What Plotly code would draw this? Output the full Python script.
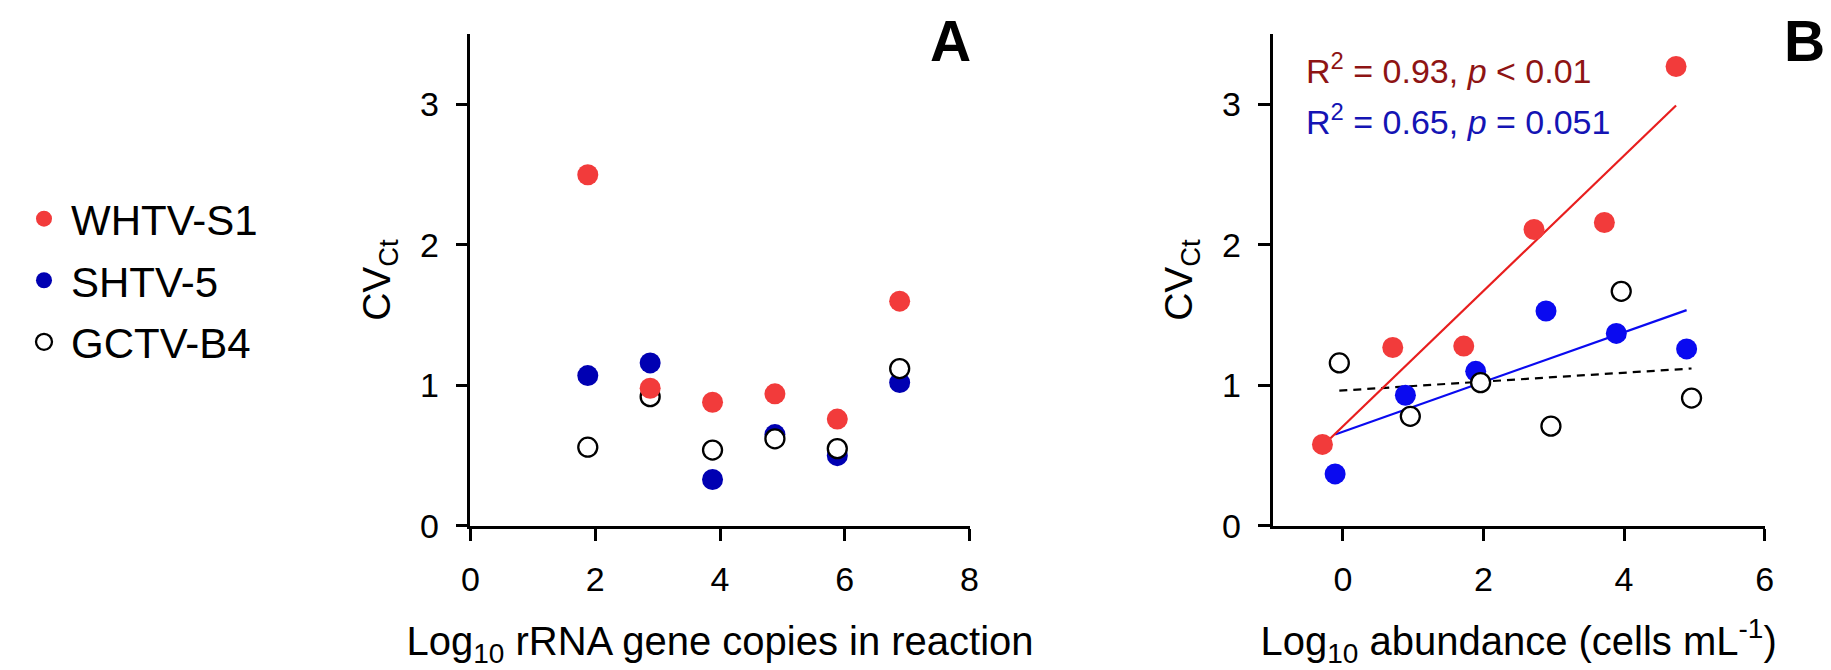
import numpy as np
import plotly.graph_objects as go

# ---------------- data ----------------
series_names = ["WHTV-S1", "SHTV-5", "GCTV-B4"]

# Panel A: log10 rRNA gene copies in reaction vs CV_Ct
a_x = [1.88, 2.88, 3.88, 4.88, 5.88, 6.88]
a_whtv = [2.50, 0.98, 0.88, 0.94, 0.76, 1.60]
a_shtv = [1.07, 1.16, 0.33, 0.65, 0.50, 1.02]
a_gctv = [0.56, 0.92, 0.54, 0.62, 0.55, 1.12]

# Panel B: log10 abundance (cells/mL) vs CV_Ct
b_x_whtv = [-0.29, 0.71, 1.72, 2.72, 3.72, 4.74]
b_y_whtv = [0.58, 1.27, 1.28, 2.11, 2.16, 3.27]
b_x_shtv = [-0.11, 0.89, 1.89, 2.89, 3.89, 4.89]
b_y_shtv = [0.37, 0.93, 1.10, 1.53, 1.37, 1.26]
b_x_gctv = [-0.05, 0.96, 1.96, 2.96, 3.96, 4.96]
b_y_gctv = [1.16, 0.78, 1.02, 0.71, 1.67, 0.91]

stats_text = ["R<sup>2</sup> = 0.93, <i>p</i> &lt; 0.01",
              "R<sup>2</sup> = 0.65, <i>p</i> = 0.051"]

# ---------------- styles ----------------
RED = "#F23B3B"
NAVY = "#0000B2"
BLUE = "#0A0AF0"
FONT = "Liberation Sans, Arial, sans-serif"


def fit_line(x, y):
    slope, intercept = np.polyfit(x, y, 1)
    xs = np.array([min(x), max(x)])
    return xs, slope * xs + intercept


fig = go.Figure()

# Panel A (blue, open, red order so red is on top)
fig.add_trace(go.Scatter(x=a_x, y=a_shtv, mode="markers", name=series_names[1],
                         legendrank=2, legendgroup="b",
                         marker=dict(size=21, color=NAVY, line=dict(width=0)),
                         xaxis="x", yaxis="y"))
fig.add_trace(go.Scatter(x=a_x, y=a_gctv, mode="markers", name=series_names[2],
                         legendrank=3, legendgroup="c",
                         marker=dict(size=19, color="white", line=dict(width=2.3, color="black")),
                         xaxis="x", yaxis="y"))
fig.add_trace(go.Scatter(x=a_x, y=a_whtv, mode="markers", name=series_names[0],
                         legendrank=1, legendgroup="a",
                         marker=dict(size=21, color=RED, line=dict(width=0)),
                         xaxis="x", yaxis="y"))

# Panel B regression lines
for xs_, ys_, col, dash in [(b_x_gctv, b_y_gctv, "black", "8px,6px"),
                            (b_x_shtv, b_y_shtv, BLUE, "solid"),
                            (b_x_whtv, b_y_whtv, "#E81E1E", "solid")]:
    lx, ly = fit_line(xs_, ys_)
    fig.add_trace(go.Scatter(x=lx, y=ly, mode="lines", showlegend=False,
                             line=dict(color=col, width=2.2, dash=dash),
                             xaxis="x2", yaxis="y2"))

# Panel B points
fig.add_trace(go.Scatter(x=b_x_shtv, y=b_y_shtv, mode="markers", showlegend=False,
                         marker=dict(size=21, color=BLUE, line=dict(width=0)),
                         xaxis="x2", yaxis="y2"))
fig.add_trace(go.Scatter(x=b_x_gctv, y=b_y_gctv, mode="markers", showlegend=False,
                         marker=dict(size=19, color="white", line=dict(width=2.3, color="black")),
                         xaxis="x2", yaxis="y2"))
fig.add_trace(go.Scatter(x=b_x_whtv, y=b_y_whtv, mode="markers", showlegend=False,
                         marker=dict(size=21, color=RED, line=dict(width=0)),
                         xaxis="x2", yaxis="y2"))

W, H = 1831, 670
axis_common = dict(showline=True, linecolor="black", linewidth=2.6, ticks="outside",
                   ticklen=12, tickwidth=2.6, tickcolor="black", showgrid=False,
                   zeroline=False, tickfont=dict(size=34, color="black", family=FONT),
                   ticklabelstandoff=10)

fig.update_layout(
    width=W, height=H,
    margin=dict(l=0, r=0, t=0, b=0),
    paper_bgcolor="white", plot_bgcolor="white",
    font=dict(family=FONT, color="black"),
    xaxis=dict(domain=[458 / W, 962 / W], range=[0, 8], dtick=2, anchor="y",
               title=dict(text="Log<sub>10</sub> rRNA gene copies in reaction",
                          font=dict(size=40), standoff=30),
               **axis_common),
    yaxis=dict(domain=[1 - 533 / H, 1 - 27 / H], range=[0, 3.5], dtick=1, anchor="x",
               title=dict(text="CV<sub>Ct</sub>", font=dict(size=39), standoff=18),
               **axis_common),
    xaxis2=dict(domain=[1268 / W, 1765 / W], range=[-1, 6], dtick=2, tick0=0, anchor="y2",
                title=dict(text="Log<sub>10</sub> abundance (cells mL<sup>-1</sup>)",
                           font=dict(size=40), standoff=30),
                **axis_common),
    yaxis2=dict(domain=[1 - 533 / H, 1 - 27 / H], range=[0, 3.5], dtick=1, anchor="x2",
                title=dict(text="CV<sub>Ct</sub>", font=dict(size=39), standoff=18),
                **axis_common),
    legend=dict(x=0, y=1 - 182 / H, xanchor="left", yanchor="top",
                font=dict(size=42, color="black", family=FONT),
                bgcolor="rgba(0,0,0,0)", tracegroupgap=4, itemwidth=44),
    annotations=[
        dict(text="<b>A</b>", x=943 / W, y=1, xref="paper", yref="paper",
             showarrow=False, font=dict(size=57, color="black"), xanchor="center",
             yanchor="top", borderpad=0),
        dict(text="<b>B</b>", x=1805 / W, y=1, xref="paper", yref="paper",
             showarrow=False, font=dict(size=57, color="black"), xanchor="center",
             yanchor="top", borderpad=0),
        dict(text=stats_text[0], x=1300 / W, y=1 - 62 / H, xref="paper", yref="paper",
             showarrow=False, font=dict(size=34, color="#8E1414"), xanchor="left", yanchor="middle"),
        dict(text=stats_text[1], x=1300 / W, y=1 - 115 / H, xref="paper", yref="paper",
             showarrow=False, font=dict(size=34, color="#1414B4"), xanchor="left", yanchor="middle"),
    ],
)

fig.write_html("out.html")
